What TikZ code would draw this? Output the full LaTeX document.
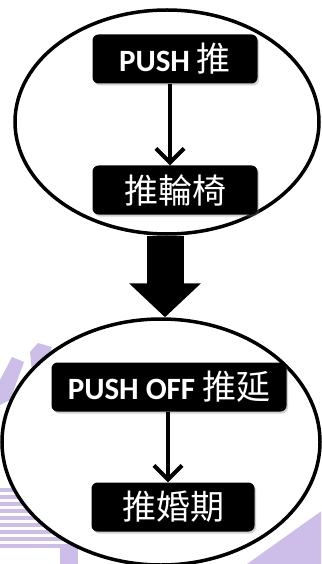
\documentclass[tikz,border=0pt]{standalone}
\usepackage{fontspec}
\setmainfont{Carlito}
\newfontfamily\cjk{Noto Sans CJK TC}
\usetikzlibrary{shapes.geometric,arrows.meta,shadows}
\definecolor{wm}{RGB}{204,190,232}
\newcommand\latf{\fontsize{31}{34}\selectfont\bfseries}
\newcommand\cjkf{\fontsize{34}{36}\selectfont\cjk}
\begin{document}
\begin{tikzpicture}[x=1pt,y=-1pt,
  oval/.style={ellipse,draw=black,line width=3.5pt,fill=white,inner sep=0pt},
  blk/.style={rectangle,rounded corners=6pt,fill=black,text=white,inner sep=0pt,
    minimum height=49pt,drop shadow={shadow xshift=1.5pt,shadow yshift=-2pt,opacity=0.35}},
  thin/.style={line width=4pt,-{Straight Barb[length=14pt,width=28pt]}}]
\useasboundingbox (0,0) rectangle (321,564);
% watermark
\begin{scope}
\clip (0,0) rectangle (321,564);
\fill[wm] (0,380) -- (12,357) -- (24,362) -- (10,400) -- (0,405) -- cycle;
\fill[wm] (30,352) -- (38,343) -- (52,347) -- (44,368) -- (32,372) -- cycle;
\foreach \yy in {488,495,502,509,516,523,530,537,544}
  \fill[wm] (0,\yy) rectangle (72,\yy+4);
\fill[wm] (60,544) rectangle (78,564);
\fill[wm] (247,564) -- (330,505) -- (330,564) -- cycle;
\end{scope}
% ovals
\node[oval,minimum width=304pt,minimum height=224pt] (e1) at (167,122) {};
\node[oval,minimum width=318pt,minimum height=246pt] (e2) at (161,442) {};
% boxes
\node[blk,minimum width=165pt] (b1) at (175,59) {{\latf PUSH}\hspace{7pt}{\cjkf 推}};
\node[blk,minimum width=165pt] (b2) at (175,190) {\cjkf 推輪椅};
\node[blk,minimum width=235pt] (b3) at (169,387) {{\latf PUSH OFF}\hspace{7pt}{\cjkf 推延}};
\node[blk,minimum width=163pt] (b4) at (173,507) {\cjkf 推婚期};
% connectors
\draw[thin] ([xshift=-5pt]b1.south) -- ([xshift=-5pt]b2.north);
\draw[thin] ([xshift=-1pt]b3.south) -- ([xshift=-5pt]b4.north);
\draw[line width=37pt,-{Triangle[length=34pt,width=70pt]}] ([xshift=-2pt]e1.south) -- ([xshift=4pt]e2.north);
\end{tikzpicture}
\end{document}
